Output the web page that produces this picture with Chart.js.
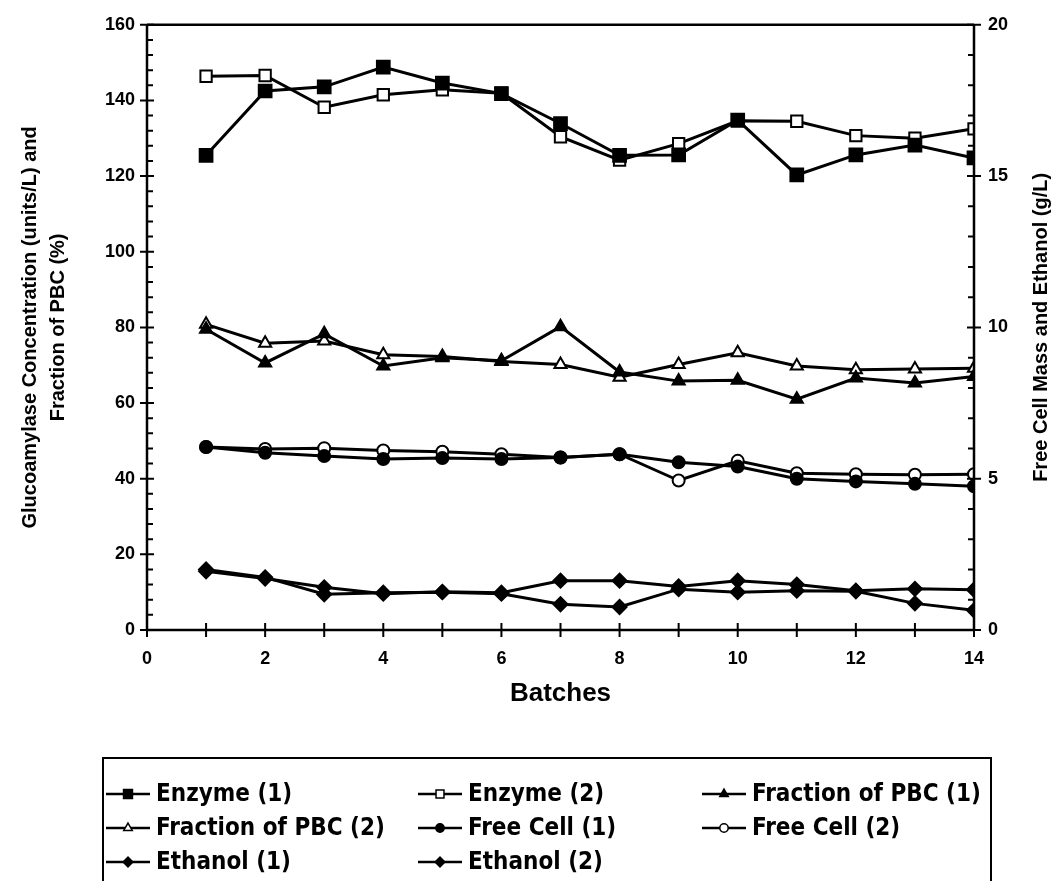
<!DOCTYPE html>
<html>
<head>
<meta charset="utf-8">
<script src="https://cdn.jsdelivr.net/npm/chart.js@4.4.1/dist/chart.umd.min.js"></script>
<style>
  html, body { margin: 0; padding: 0; background: #fff; }
  canvas { display: block; }
</style>
</head>
<body>
<canvas id="chart" width="1063" height="881"></canvas>
<script>
// batch numbers
const batches = [1, 2, 3, 4, 5, 6, 7, 8, 9, 10, 11, 12, 13, 14];

// left axis: units/L and %
const enzyme1 = [125.5, 142.5, 143.6, 148.8, 144.6, 141.8, 133.9, 125.5, 125.6, 134.8, 120.3, 125.6, 128.2, 124.8];
const enzyme2 = [146.4, 146.6, 138.2, 141.5, 142.8, 141.9, 130.4, 124.2, 128.6, 134.6, 134.5, 130.7, 130.0, 132.5];
const fraction1 = [79.5, 70.6, 78.3, 69.8, 72.0, 71.2, 80.2, 68.2, 65.8, 66.0, 61.0, 66.6, 65.3, 67.0];
const fraction2 = [80.8, 75.8, 76.4, 72.8, 72.3, 71.0, 70.2, 66.8, 70.2, 73.3, 69.8, 68.8, 69.0, 69.2];

// right axis: g/L
const freeCell1 = [6.05, 5.86, 5.75, 5.65, 5.68, 5.65, 5.70, 5.81, 5.54, 5.40, 5.00, 4.91, 4.83, 4.75];
const freeCell2 = [6.05, 5.98, 6.01, 5.93, 5.89, 5.81, 5.70, 5.81, 4.94, 5.59, 5.18, 5.15, 5.13, 5.15];
const ethanol1 = [2.00, 1.74, 1.18, 1.23, 1.25, 1.20, 0.85, 0.76, 1.35, 1.25, 1.30, 1.28, 0.88, 0.65];
const ethanol2 = [1.94, 1.70, 1.41, 1.20, 1.26, 1.23, 1.63, 1.63, 1.44, 1.63, 1.50, 1.30, 1.36, 1.33];

// labelled ticks
const xTickLabels = [0, 2, 4, 6, 8, 10, 12, 14];
const leftTickLabels = [0, 20, 40, 60, 80, 100, 120, 140, 160];
const rightTickLabels = [0, 5, 10, 15, 20];

const leftTitle = ["Glucoamylase Concentration (units/L) and", "Fraction of PBC (%)"];
const rightTitle = "Free Cell Mass and Ethanol (g/L)";
const xTitle = "Batches";

const FONT = '"Liberation Sans", Arial, sans-serif';
const NARROW = '"Liberation Sans Narrow", "DejaVu Sans Condensed", "Liberation Sans", sans-serif';

function pts(values) {
  return batches.map((b, i) => ({ x: b, y: values[i] }));
}

function series(label, values, axis, style, filled, radius) {
  return {
    label: label,
    data: pts(values),
    yAxisID: axis,
    borderColor: "#000",
    borderWidth: 3,
    pointStyle: style,
    pointRadius: radius,
    pointBorderWidth: 2,
    pointBorderColor: "#000",
    pointBackgroundColor: filled ? "#000" : "#fff",
    fill: false,
    tension: 0
  };
}

// axis lines, crossing ticks, titles and the boxed legend
const decorations = {
  id: "decorations",
  afterDraw(chart) {
    const ctx = chart.ctx;
    const area = chart.chartArea;
    const x = chart.scales.x, y = chart.scales.y, y1 = chart.scales.y1;
    const y0 = y.getPixelForValue(0);
    ctx.save();
    ctx.strokeStyle = "#000";
    ctx.lineWidth = 2.5;
    ctx.lineCap = "butt";

    ctx.beginPath();
    ctx.moveTo(area.left, area.top); ctx.lineTo(area.right, area.top);
    ctx.moveTo(area.left, area.top); ctx.lineTo(area.left, area.bottom);
    ctx.moveTo(area.right, area.top); ctx.lineTo(area.right, area.bottom);
    ctx.moveTo(area.left, y0); ctx.lineTo(area.right, y0);
    ctx.stroke();

    ctx.lineWidth = 2;
    ctx.beginPath();
    for (let v = 0; v <= 160; v += 4) {
      const py = y.getPixelForValue(v);
      if (v % 20 === 0) { ctx.moveTo(area.left - 7, py); ctx.lineTo(area.left + 7, py); }
      else { ctx.moveTo(area.left, py); ctx.lineTo(area.left + 6, py); }
    }
    for (let v = 0; v <= 20; v += 1) {
      const py = y1.getPixelForValue(v);
      if (v % 5 === 0) { ctx.moveTo(area.right - 7, py); ctx.lineTo(area.right + 7, py); }
      else { ctx.moveTo(area.right - 6, py); ctx.lineTo(area.right, py); }
    }
    for (let v = 0; v <= 14; v += 1) {
      const px = x.getPixelForValue(v);
      ctx.moveTo(px, y0 - 7); ctx.lineTo(px, y0 + 7);
    }
    ctx.stroke();

    // titles
    ctx.fillStyle = "#000";
    ctx.textAlign = "center";
    ctx.textBaseline = "middle";
    const midY = (area.top + area.bottom) / 2;
    ctx.font = "bold 20px " + FONT;
    ctx.save();
    ctx.translate(30, midY);
    ctx.rotate(-Math.PI / 2);
    ctx.fillText(leftTitle[0], 0, 0);
    ctx.restore();
    ctx.save();
    ctx.translate(58, midY);
    ctx.rotate(-Math.PI / 2);
    ctx.fillText(leftTitle[1], 0, 0);
    ctx.restore();
    ctx.save();
    ctx.translate(1041, midY);
    ctx.rotate(-Math.PI / 2);
    ctx.fillText(rightTitle, 0, 0);
    ctx.restore();
    ctx.font = "bold 26px " + FONT;
    ctx.fillText(xTitle, (area.left + area.right) / 2, 694);

    // legend
    const box = { left: 103, right: 991, top: 758 };
    ctx.lineWidth = 2;
    ctx.strokeRect(box.left, box.top, box.right - box.left, 200);
    const cols = [106, 418, 702];
    const rows = [794, 828, 862];
    ctx.textAlign = "left";
    ctx.font = "bold 24px " + NARROW;
    chart.data.datasets.forEach((ds, i) => {
      const cx = cols[i % 3], cy = rows[Math.floor(i / 3)];
      ctx.lineWidth = 2.5;
      ctx.beginPath();
      ctx.moveTo(cx, cy); ctx.lineTo(cx + 44, cy);
      ctx.stroke();
      ctx.fillStyle = ds.pointBackgroundColor;
      ctx.lineWidth = 1.5;
      Chart.helpers.drawPoint(ctx, { pointStyle: ds.pointStyle, radius: ds.pointRadius * 0.7, borderWidth: 1.5 }, cx + 22, cy);
      ctx.fillStyle = "#000";
      ctx.fillText(ds.label, cx + 50, cy + 1);
    });
    ctx.restore();
  }
};

new Chart(document.getElementById("chart").getContext("2d"), {
  type: "line",
  data: {
    datasets: [
      series("Enzyme (1)", enzyme1, "y", "rect", true, 9),
      series("Enzyme (2)", enzyme2, "y", "rect", false, 8),
      series("Fraction of PBC (1)", fraction1, "y", "triangle", true, 7),
      series("Fraction of PBC (2)", fraction2, "y", "triangle", false, 7),
      series("Free Cell (1)", freeCell1, "y1", "circle", true, 6),
      series("Free Cell (2)", freeCell2, "y1", "circle", false, 6),
      series("Ethanol (1)", ethanol1, "y1", "rectRot", true, 7),
      series("Ethanol (2)", ethanol2, "y1", "rectRot", true, 7)
    ]
  },
  options: {
    responsive: false,
    animation: false,
    devicePixelRatio: 1,
    layout: { padding: { top: 22, left: 0, right: 0, bottom: 191 } },
    plugins: { legend: { display: false }, tooltip: { enabled: false } },
    scales: {
      x: {
        type: "linear",
        min: 0, max: 14,
        grid: { display: false, drawTicks: false },
        border: { display: false },
        ticks: {
          stepSize: 2,
          padding: 18,
          color: "#000",
          font: { family: FONT, size: 18, weight: "bold" },
          callback: v => xTickLabels.includes(v) ? String(v) : ""
        },
        afterFit: s => { s.height = 60; }
      },
      y: {
        position: "left",
        min: 0, max: 160,
        grid: { display: false, drawTicks: false },
        border: { display: false },
        ticks: {
          stepSize: 20,
          padding: 12,
          color: "#000",
          font: { family: FONT, size: 18, weight: "bold" },
          callback: v => leftTickLabels.includes(v) ? String(v) : ""
        },
        afterFit: s => { s.width = 147; }
      },
      y1: {
        position: "right",
        min: 0, max: 20,
        grid: { display: false, drawTicks: false },
        border: { display: false },
        ticks: {
          stepSize: 5,
          padding: 14,
          color: "#000",
          font: { family: FONT, size: 18, weight: "bold" },
          callback: v => rightTickLabels.includes(v) ? String(v) : ""
        },
        afterFit: s => { s.width = 89; }
      }
    }
  },
  plugins: [decorations]
});
</script>
</body>
</html>
